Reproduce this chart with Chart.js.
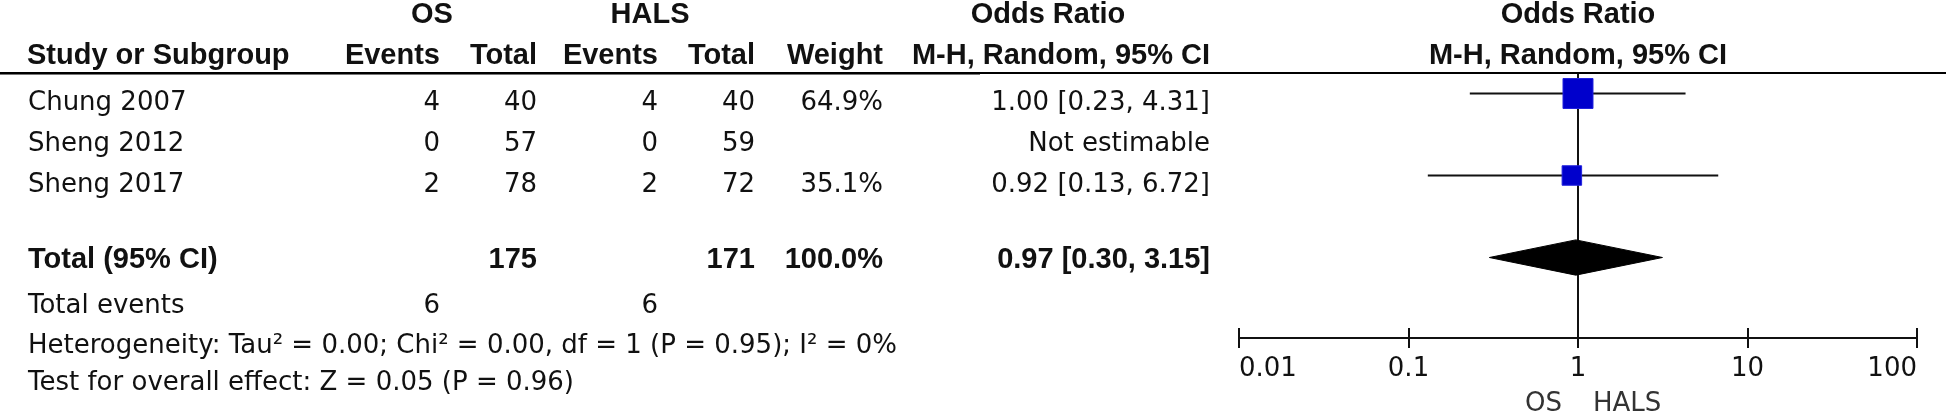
<!DOCTYPE html>
<html>
<head>
<meta charset="utf-8">
<script src="https://cdn.jsdelivr.net/npm/chart.js@4.4.1/dist/chart.umd.min.js"></script>
<style>
  html, body { margin: 0; padding: 0; background: #fff; }
  canvas { display: block; }
</style>
</head>
<body>
<canvas id="forest" width="1946" height="414"></canvas>
<script>
// Study level data (OS vs HALS)
const studies = ['Chung 2007', 'Sheng 2012', 'Sheng 2017'];
const osEvents = [4, 0, 2];
const osTotal = [40, 57, 78];
const halsEvents = [4, 0, 2];
const halsTotal = [40, 59, 72];
const weights = [64.9, null, 35.1];
const oddsRatio = [1.00, null, 0.92];
const ciLower = [0.23, null, 0.13];
const ciUpper = [4.31, null, 6.72];

// Pooled result
const totalOs = 175;
const totalHals = 171;
const totalEventsOs = 6;
const totalEventsHals = 6;
const pooledOR = 0.97;
const pooledLower = 0.30;
const pooledUpper = 3.15;
const heterogeneityText = 'Heterogeneity: Tau² = 0.00; Chi² = 0.00, df = 1 (P = 0.95); I² = 0%';
const overallEffectText = 'Test for overall effect: Z = 0.05 (P = 0.96)';

// Axis ticks
const axisTicks = [0.01, 0.1, 1, 10, 100];

// layout
const TOTAL_ROW = 4;
const Y_MIN = -0.5;
const Y_MAX = 5.963;
const REG_FONT = '26px "DejaVu Sans"';
const BOLD_FONT = 'bold 29px "Liberation Sans"';
const INK = '#111';

function fmt(v) { return v.toFixed(2); }

// datasets
const squareData = [];
const ciDatasets = [];
studies.forEach((name, i) => {
    if (oddsRatio[i] === null) return;
    squareData.push({ x: oddsRatio[i], y: i, w: weights[i] });
    ciDatasets.push({
        type: 'line',
        data: [{ x: ciLower[i], y: i }, { x: ciUpper[i], y: i }],
        borderColor: INK,
        borderWidth: 2,
        pointRadius: 0,
        order: 2
    });
});

const diamondHalf = 0.43;
const diamondData = [
    { x: pooledLower, y: TOTAL_ROW },
    { x: pooledOR, y: TOTAL_ROW - diamondHalf },
    { x: pooledUpper, y: TOTAL_ROW },
    { x: pooledOR, y: TOTAL_ROW + diamondHalf },
    { x: pooledLower, y: TOTAL_ROW }
];

// square side grows with study weight
function squareRadius(c) {
    const w = c.raw ? c.raw.w : 0;
    return 21.2 * Math.pow(w / 64.9, 0.7);
}

// table text + axis ticks drawn against the chart scales
const tablePlugin = {
    id: 'tablePlugin',
    afterDraw(chart) {
        const ctx = chart.ctx;
        const xs = chart.scales.x;
        const ys = chart.scales.y;
        const area = chart.chartArea;
        const x1 = xs.getPixelForValue(1);

        ctx.save();
        // header rule
        ctx.fillStyle = '#000';
        ctx.fillRect(0, area.top - 1, chart.width, 2);
        ctx.fillStyle = '#777';
        ctx.fillRect(0, area.top + 1, 980, 1);

        // tick marks crossing the axis
        ctx.strokeStyle = INK;
        ctx.lineWidth = 2;
        axisTicks.forEach(v => {
            const px = Math.round(xs.getPixelForValue(v));
            ctx.beginPath();
            ctx.moveTo(px, area.bottom - 10);
            ctx.lineTo(px, area.bottom + 10);
            ctx.stroke();
        });

        function txt(s, x, y, align, font) {
            ctx.font = font || REG_FONT;
            ctx.textAlign = align || 'right';
            ctx.textBaseline = 'alphabetic';
            ctx.fillStyle = INK;
            ctx.fillText(s, x, y);
        }

        // headers
        txt('OS', 432, 23, 'center', BOLD_FONT);
        txt('HALS', 650, 23, 'center', BOLD_FONT);
        txt('Odds Ratio', 1048, 23, 'center', BOLD_FONT);
        txt('Odds Ratio', x1, 23, 'center', BOLD_FONT);
        txt('Study or Subgroup', 27, 64, 'left', BOLD_FONT);
        txt('Events', 440, 64, 'right', BOLD_FONT);
        txt('Total', 537, 64, 'right', BOLD_FONT);
        txt('Events', 658, 64, 'right', BOLD_FONT);
        txt('Total', 755, 64, 'right', BOLD_FONT);
        txt('Weight', 883, 64, 'right', BOLD_FONT);
        txt('M-H, Random, 95% CI', 1210, 64, 'right', BOLD_FONT);
        txt('M-H, Random, 95% CI', x1, 64, 'center', BOLD_FONT);

        // study rows
        studies.forEach((name, i) => {
            const by = ys.getPixelForValue(i) + 16.5;
            txt(name, 28, by, 'left');
            txt(String(osEvents[i]), 440, by);
            txt(String(osTotal[i]), 537, by);
            txt(String(halsEvents[i]), 658, by);
            txt(String(halsTotal[i]), 755, by);
            if (weights[i] !== null) txt(weights[i].toFixed(1) + '%', 883, by);
            const orText = oddsRatio[i] === null ? 'Not estimable'
                : fmt(oddsRatio[i]) + ' [' + fmt(ciLower[i]) + ', ' + fmt(ciUpper[i]) + ']';
            txt(orText, 1210, by);
        });

        // total row
        const ty = ys.getPixelForValue(TOTAL_ROW) + 10.5;
        txt('Total (95% CI)', 28, ty, 'left', BOLD_FONT);
        txt(String(totalOs), 537, ty, 'right', BOLD_FONT);
        txt(String(totalHals), 755, ty, 'right', BOLD_FONT);
        const wSum = weights.reduce((a, b) => a + (b || 0), 0);
        txt(wSum.toFixed(1) + '%', 883, ty, 'right', BOLD_FONT);
        txt(fmt(pooledOR) + ' [' + fmt(pooledLower) + ', ' + fmt(pooledUpper) + ']', 1210, ty, 'right', BOLD_FONT);

        // footer
        txt('Total events', 28, 313, 'left');
        txt(String(totalEventsOs), 440, 313);
        txt(String(totalEventsHals), 658, 313);
        txt(heterogeneityText, 28, 353, 'left');
        txt(overallEffectText, 28, 390, 'left');

        // favours labels
        ctx.fillStyle = '#333';
        ctx.font = REG_FONT;
        ctx.textBaseline = 'alphabetic';
        ctx.textAlign = 'right';
        ctx.fillText('OS', x1 - 16, 411);
        ctx.textAlign = 'left';
        ctx.fillText('HALS', x1 + 15, 411);
        ctx.restore();
    }
};

function renderForest() {
    const ctx = document.getElementById('forest').getContext('2d');
    new Chart(ctx, {
        data: {
            datasets: [
                {
                    type: 'scatter',
                    data: squareData,
                    pointStyle: 'rect',
                    pointRadius: squareRadius,
                    pointHoverRadius: squareRadius,
                    backgroundColor: '#0000CC',
                    borderColor: '#2222DD',
                    borderWidth: 1,
                    order: 0
                },
                ...ciDatasets,
                {
                    type: 'line',
                    data: diamondData,
                    borderColor: '#000',
                    backgroundColor: '#000',
                    borderWidth: 1,
                    pointRadius: 0,
                    fill: 'shape',
                    order: 1
                },
                {
                    type: 'line',
                    data: [{ x: 1, y: Y_MIN }, { x: 1, y: Y_MAX }],
                    borderColor: INK,
                    borderWidth: 2,
                    pointRadius: 0,
                    order: 3
                }
            ]
        },
        options: {
            responsive: false,
            animation: false,
            devicePixelRatio: 1,
            layout: { padding: { left: 1239, right: 29, top: 73, bottom: 0 } },
            plugins: { legend: { display: false }, tooltip: { enabled: false } },
            scales: {
                x: {
                    type: 'logarithmic',
                    min: 0.01,
                    max: 100,
                    afterBuildTicks: scale => {
                        scale.ticks = axisTicks.map(v => ({ value: v }));
                    },
                    afterFit: scale => { scale.height = 76; },
                    grid: { display: true, drawOnChartArea: false, drawTicks: false },
                    border: { display: true, color: INK, width: 2 },
                    ticks: {
                        align: 'inner',
                        padding: 16,
                        color: INK,
                        font: { family: 'DejaVu Sans', size: 26 },
                        maxRotation: 0,
                        autoSkip: false,
                        callback: v => String(v)
                    }
                },
                y: {
                    type: 'linear',
                    reverse: true,
                    min: Y_MIN,
                    max: Y_MAX,
                    display: false
                }
            }
        },
        plugins: [tablePlugin]
    });
}

window.onload = renderForest;
</script>
</body>
</html>
